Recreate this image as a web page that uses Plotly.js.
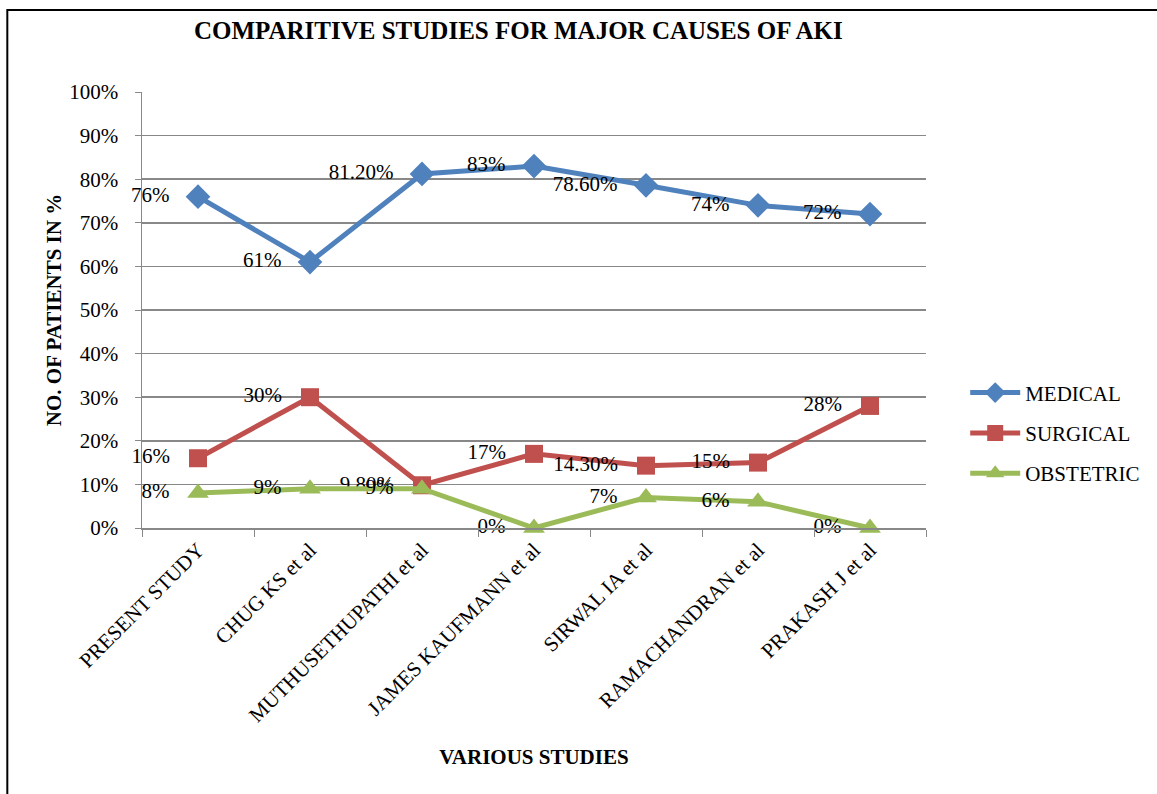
<!DOCTYPE html>
<html>
<head>
<meta charset="utf-8">
<script src="https://cdn.plot.ly/plotly-3.0.1.min.js"></script>
<style>html,body{margin:0;padding:0;background:#fff;}#chart{width:1157px;height:794px;}</style>
</head>
<body>
<div id="chart"></div>
<script>
var categories = ["PRESENT STUDY", "CHUG KS et al", "MUTHUSETHUPATHI et al", "JAMES KAUFMANN et al", "SIRWAL IA et al", "RAMACHANDRAN et al", "PRAKASH J et al"];
var medical = [76, 61, 81.2, 83, 78.6, 74, 72];
var surgical = [16, 30, 9.8, 17, 14.3, 15, 28];
var obstetric = [8, 9, 9, 0, 7, 6, 0];
var medicalLabels = ["76%", "61%", "81.20%", "83%", "78.60%", "74%", "72%"];
var surgicalLabels = ["16%", "30%", "9.80%", "17%", "14.30%", "15%", "28%"];
var obstetricLabels = ["8%", "9%", "9%", "0%", "7%", "6%", "0%"];
var yTicks = [0,10,20,30,40,50,60,70,80,90,100];
var yTickText = yTicks.map(function(v){return v + "%";});

var FONT = "Liberation Serif, Times New Roman, serif";
var PAD = "\u00a0\u00a0\u00a0";
function series(name, y, labels, color, symbol, size, group) {
  return {
    type: "scatter", mode: "lines+markers+text", name: name,
    x: categories, y: y, text: labels.map(function(t){return t + PAD;}), textposition: "middle left",
    textfont: {family: FONT, size: 21, color: "#000"},
    line: {color: color, width: 5},
    marker: {color: color, symbol: symbol, size: size},
    legendgroup: group, cliponaxis: false
  };
}
var data = [
  series("MEDICAL", medical, medicalLabels, "#4F81BD", "diamond", 19, "a"),
  series("SURGICAL", surgical, surgicalLabels, "#C0504D", "square", 18, "b"),
  series("OBSTETRIC", obstetric, obstetricLabels, "#9BBB59", "triangle-up", 19, "c")
];
var layout = {
  width: 1157, height: 794,
  margin: {l: 142, r: 229, t: 92, b: 266},
  paper_bgcolor: "#fff", plot_bgcolor: "#fff",
  font: {family: FONT, size: 21, color: "#000"},
  title: {text: "<b>COMPARITIVE STUDIES FOR MAJOR CAUSES OF AKI</b>", font: {family: FONT, size: 25, color: "#000"}, x: 0.448, xanchor: "center", y: 0.962, yanchor: "middle"},
  xaxis: {
    type: "category", range: [-0.5, 6.5], tickangle: -45,
    ticks: "outside", tickson: "boundaries", ticklen: 7, tickcolor: "#888",
    showline: true, linecolor: "#888", linewidth: 1.5, showgrid: false,
    tickfont: {family: FONT, size: 21, color: "#000"},
    title: {text: "<b>VARIOUS STUDIES</b>", font: {family: FONT, size: 21, color: "#000"}, standoff: 23},
    zeroline: false
  },
  yaxis: {
    range: [0, 100], tickvals: yTicks, ticktext: yTickText,
    ticks: "outside", ticklen: 6, tickcolor: "#888", ticklabelstandoff: 12,
    showline: true, linecolor: "#888", linewidth: 1.5,
    showgrid: true, gridcolor: "#888", gridwidth: 1.5, zeroline: false,
    tickfont: {family: FONT, size: 21, color: "#000"},
    title: {text: "<b>NO. OF PATIENTS IN %</b>", font: {family: FONT, size: 21, color: "#000"}, standoff: 2}
  },
  legend: {x: 1.05, xanchor: "left", y: 0.218, yanchor: "middle", font: {family: FONT, size: 21, color: "#000"}, tracegroupgap: 10, bgcolor: "rgba(0,0,0,0)", itemwidth: 50},
  showlegend: true,
  shapes: [{type: "rect", xref: "paper", yref: "paper", x0: -0.1718, x1: 2, y0: -1, y1: 1.188, line: {color: "#000", width: 2}, layer: "below"}]
};
Plotly.newPlot("chart", data, layout, {staticPlot: true, displayModeBar: false});
</script>
</body>
</html>
